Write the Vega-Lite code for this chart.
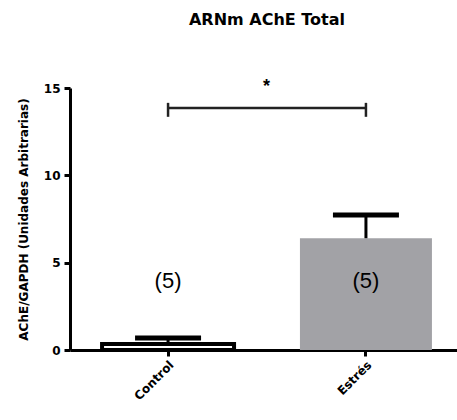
{
  "$schema": "https://vega.github.io/schema/vega-lite/v6.json",
  "width": 394,
  "height": 262,
  "autosize": {"type": "none"},
  "padding": {"left": 70, "top": 88, "right": 0, "bottom": 70},
  "background": "white",
  "title": {
    "text": "ARNm AChE Total",
    "font": "DejaVu Sans",
    "fontSize": 16,
    "fontWeight": "bold",
    "color": "black",
    "anchor": "middle",
    "frame": "group",
    "offset": 50
  },
  "config": {
    "view": {"stroke": null},
    "axis": {
      "grid": false,
      "domainColor": "black",
      "domainWidth": 3,
      "tickColor": "black",
      "tickWidth": 3,
      "tickSize": 6,
      "labelColor": "black",
      "labelFont": "DejaVu Sans",
      "labelFontWeight": "bold",
      "titleColor": "black",
      "titleFont": "DejaVu Sans",
      "titleFontWeight": "bold"
    }
  },
  "datasets": {
    "main": [
      {"group": "Control", "mean": 0.35, "upper": 0.68, "label": "(5)"},
      {"group": "Estrés", "mean": 6.4, "upper": 7.73, "label": "(5)"}
    ],
    "sig": [
      {"a": "Control", "b": "Estrés", "mark": "*"}
    ]
  },
  "layer": [
    {
      "data": {"name": "main"},
      "mark": {"type": "bar", "strokeWidth": 4},
      "encoding": {
        "x": {
          "field": "group",
          "type": "nominal",
          "sort": ["Control", "Estrés"],
          "scale": {"paddingInner": 0.333, "paddingOuter": 0.162},
          "axis": {"title": null, "labelAngle": -45, "labelFontSize": 12, "labelPadding": 3}
        },
        "y": {
          "field": "mean",
          "type": "quantitative",
          "scale": {"domain": [0, 15], "nice": false},
          "axis": {
            "values": [0, 5, 10, 15],
            "title": "AChE/GAPDH (Unidades Arbitrarias)",
            "titleFontSize": 12,
            "titlePadding": 13,
            "labelFontSize": 12,
            "labelPadding": 4
          }
        },
        "color": {
          "field": "group",
          "type": "nominal",
          "scale": {"domain": ["Control", "Estrés"], "range": ["white", "#a2a2a6"]},
          "legend": null
        },
        "stroke": {
          "field": "group",
          "type": "nominal",
          "scale": {"domain": ["Control", "Estrés"], "range": ["black", "rgba(0,0,0,0)"]},
          "legend": null
        }
      }
    },
    {
      "data": {"name": "main"},
      "mark": {"type": "rule", "strokeWidth": 3, "color": "black"},
      "encoding": {
        "x": {"field": "group", "type": "nominal", "sort": ["Control", "Estrés"]},
        "y": {"field": "mean", "type": "quantitative"},
        "y2": {"field": "upper"}
      }
    },
    {
      "data": {"name": "main"},
      "mark": {"type": "tick", "thickness": 5, "size": 66, "color": "black", "opacity": 1},
      "encoding": {
        "x": {"field": "group", "type": "nominal", "sort": ["Control", "Estrés"]},
        "y": {"field": "upper", "type": "quantitative"}
      }
    },
    {
      "data": {"name": "main"},
      "mark": {"type": "text", "fontSize": 22, "font": "Liberation Sans", "color": "black", "baseline": "middle"},
      "encoding": {
        "x": {"field": "group", "type": "nominal", "sort": ["Control", "Estrés"]},
        "y": {"datum": 3.95},
        "text": {"field": "label"}
      }
    },
    {
      "data": {"name": "sig"},
      "mark": {"type": "rule", "strokeWidth": 2.5, "color": "#222"},
      "encoding": {
        "x": {"field": "a", "type": "nominal"},
        "x2": {"field": "b"},
        "y": {"datum": 13.85}
      }
    },
    {
      "data": {"name": "main"},
      "mark": {"type": "rule", "strokeWidth": 2.5, "color": "#222"},
      "encoding": {
        "x": {"field": "group", "type": "nominal", "sort": ["Control", "Estrés"]},
        "y": {"datum": 13.35},
        "y2": {"datum": 14.15}
      }
    },
    {
      "data": {"name": "sig"},
      "mark": {"type": "text", "fontSize": 18, "font": "Liberation Sans", "fontWeight": "bold", "color": "black", "baseline": "alphabetic"},
      "encoding": {
        "x": {"field": "a", "type": "nominal", "bandPosition": 1.246},
        "y": {"datum": 14.75},
        "text": {"field": "mark"}
      }
    }
  ]
}
